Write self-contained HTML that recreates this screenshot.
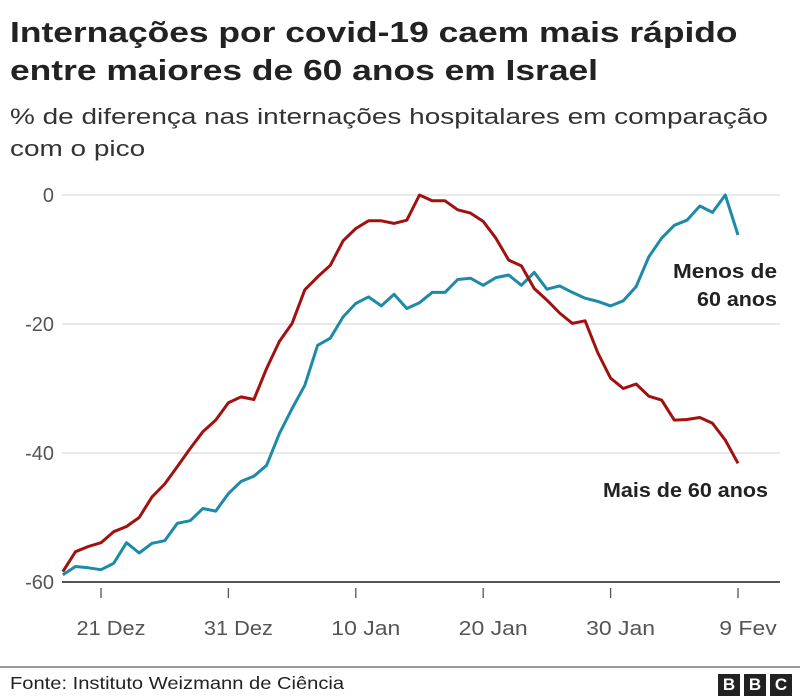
<!DOCTYPE html>
<html><head><meta charset="utf-8">
<style>
body{margin:0;background:#fff;font-family:"Liberation Sans",sans-serif;}
#wrap{position:relative;width:800px;height:698px;overflow:hidden;}
h1{position:absolute;left:10px;top:14px;margin:0;font-size:29px;line-height:38px;font-weight:bold;color:#222;transform:scaleX(1.22);transform-origin:0 0;white-space:nowrap;}
.sub{position:absolute;left:10px;top:101px;font-size:22px;line-height:32px;color:#333;transform:scaleX(1.27);transform-origin:0 0;white-space:nowrap;}
.src{position:absolute;left:10px;top:673px;font-size:17.5px;color:#222;transform:scaleX(1.15);transform-origin:0 0;white-space:nowrap;}
.sep{position:absolute;left:0;top:666px;width:800px;height:2px;background:#999;}
.bbc{position:absolute;top:674px;width:22px;height:22px;background:#222;color:#fff;font-weight:bold;font-size:17px;text-align:center;line-height:22px;}
svg text{font-family:"Liberation Sans",sans-serif;}
</style></head><body>
<div id="wrap">
<h1>Internações por covid-19 caem mais rápido<br>entre maiores de 60 anos em Israel</h1>
<div class="sub">% de diferença nas internações hospitalares em comparação<br>com o pico</div>
<svg id="chart" width="800" height="698" style="position:absolute;left:0;top:0"></svg>
<div class="sep"></div>
<div class="src">Fonte: Instituto Weizmann de Ciência</div>
<div class="bbc" style="left:718px">B</div>
<div class="bbc" style="left:744px">B</div>
<div class="bbc" style="left:770px">C</div>
</div>
<script>
const startDay = -3; // days relative to 21 Dez
const over60 = [-58.4,-55.3,-54.5,-53.9,-52.2,-51.4,-50,-46.8,-44.8,-42.1,-39.3,-36.7,-34.9,-32.2,-31.3,-31.7,-26.9,-22.7,-19.9,-14.7,-12.7,-10.9,-7.1,-5.2,-4,-4,-4.4,-3.9,
 0,-0.9,-0.9,-2.3,-2.8,-4.1,-6.7,-10.1,-11,-14.5,-16.3,-18.3,-19.9,-19.5,-24.5,-28.4,-30,-29.3,-31.2,-31.8,-34.9,-34.8,-34.5,-35.4,-38,-41.6];
const under60 = [-58.9,-57.6,-57.8,-58.1,-57.1,-53.9,-55.5,-54,-53.6,-50.9,-50.5,-48.6,-49,-46.3,-44.4,-43.6,-41.9,-37,-33.1,-29.5,-23.3,-22.2,-18.9,-16.8,-15.8,-17.2,-15.4,-17.6,
 -16.7,-15.1,-15.1,-13.1,-12.9,-14,-12.8,-12.4,-14,-12,-14.6,-14.1,-15.1,-16,-16.5,-17.2,-16.4,-14.2,-9.6,-6.7,-4.7,-3.9,-1.7,-2.7,0,-6.2];
const yTicks = [0,-20,-40,-60];
const xTickDays = [0,10,20,30,40,50];
const xTickLabels = ["21 Dez","31 Dez","10 Jan","20 Jan","30 Jan","9 Fev"];

const NS="http://www.w3.org/2000/svg";
const svg=document.getElementById('chart');
const x=d=>101+d*12.74;
const y=v=>195-v*(387/60);
function mk(t,a){const e=document.createElementNS(NS,t);for(const k in a)e.setAttribute(k,a[k]);svg.appendChild(e);return e;}
yTicks.forEach(v=>{
  if(v!==-60){const g=mk('line',{x1:62,x2:780,y1:y(v),y2:y(v),stroke:'#dcdcdc','stroke-width':1.3});
  
  }
  const t=mk('text',{x:54,y:y(v)+7,'text-anchor':'end','font-size':20,fill:'#555'});
  t.textContent=v;
  
  
});
const ax=mk('line',{x1:62,x2:780,y1:y(-60),y2:y(-60),stroke:'#555','stroke-width':2});


xTickDays.forEach((d,i)=>{
  const tk=mk('line',{x1:x(d),x2:x(d),y1:588,y2:598,stroke:'#555','stroke-width':1.3});
  
  
  const t=mk('text',{x:x(d)+10,y:635,'text-anchor':'middle','font-size':20,fill:'#555',textLength:(xTickLabels[i].length*11.5),lengthAdjust:'spacingAndGlyphs'});
  t.textContent=xTickLabels[i];
  
  
});
function line(data,color,name){
  const pts=data.map((v,i)=>x(startDay+i).toFixed(1)+','+y(v).toFixed(1)).join(' ');
  const p=mk('polyline',{points:pts,fill:'none',stroke:color,'stroke-width':3,'stroke-linejoin':'round'});
  
  
}
line(under60,'#1d8aa8','series-under-60');
line(over60,'#a0110f','series-over-60');
[["Menos de",777,278,104],["60 anos",777,306,80],["Mais de 60 anos",768,497,165]].forEach(([s,xx,yy,w],i)=>{
  const t=mk('text',{x:xx,y:yy,'text-anchor':'end','font-size':20,'font-weight':'bold',fill:'#222',textLength:w,lengthAdjust:'spacingAndGlyphs'});
  t.textContent=s;
  
  
});
</script>
</body></html>
